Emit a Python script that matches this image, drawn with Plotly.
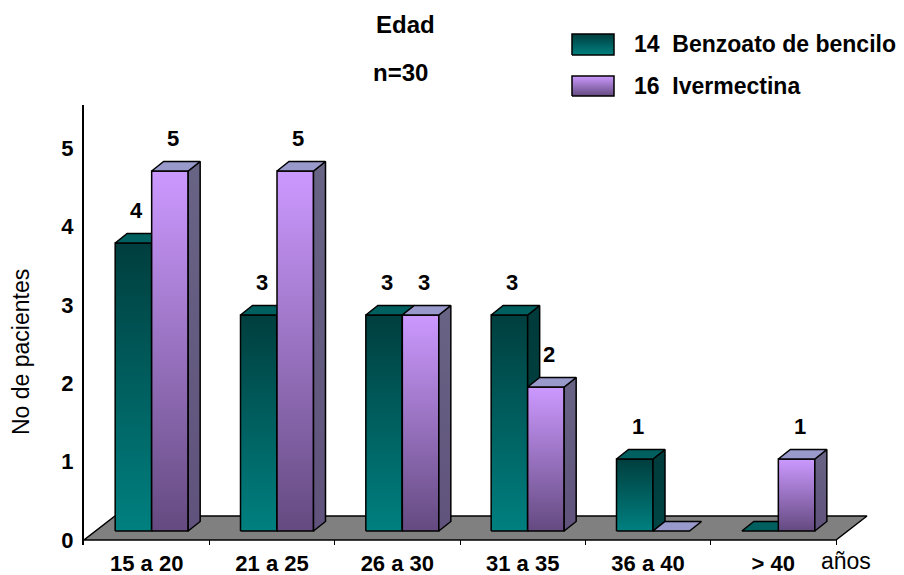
import plotly.graph_objects as go

# ---- data -----------------------------------------------------------------
categories = ["15 a 20", "21 a 25", "26 a 30", "31 a 35", "36 a 40", "> 40"]
benzoato = [4, 3, 3, 3, 1, 0]
ivermectina = [5, 5, 3, 2, 0, 1]
y_ticks = [0, 1, 2, 3, 4, 5]
series_names = ["14\u00a0\u00a0Benzoato de bencilo", "16\u00a0\u00a0Ivermectina"]

# ---- page / projection geometry (pixels) -------------------------------------
W, H = 904, 575
PX_LEFT, PX_RIGHT = 84, 880        # plot area, left/right
PX_TOP, PX_BOTTOM = 105, 545       # plot area, top/bottom
FRONT_PX = 540                     # front edge of the floor (value 0, front plane)
PX_CAT = 752 / 6                   # width of one age group
PX_UNIT = 78.4                     # one patient on the front plane
PX_UNIT_BAR = 72.0                 # one patient at the depth of the columns
BAR_LIFT = 9                       # columns stand this far behind the floor edge

FLOOR_DX, FLOOR_DY = 31 / PX_CAT, 24 / PX_UNIT
BAR_DX, BAR_DY = 12 / PX_CAT, 9.5 / PX_UNIT_BAR
BAR_W = 36.5 / PX_CAT
PAIR_SHIFT = 5 / PX_CAT

FONT = "Arial, 'Liberation Sans', sans-serif"

x_range = [-0.5, -0.5 + (PX_RIGHT - PX_LEFT) / PX_CAT]
y_range = [(FRONT_PX - PX_BOTTOM) / PX_UNIT, (FRONT_PX - PX_TOP) / PX_UNIT]
y2_range = [(FRONT_PX - BAR_LIFT - PX_BOTTOM) / PX_UNIT_BAR,
            (FRONT_PX - BAR_LIFT - PX_TOP) / PX_UNIT_BAR]

styles = [
    dict(front=["rgb(0,128,128)", "rgb(0,62,62)"],
         top="rgb(0,96,96)",
         side=["rgb(0,70,70)", "rgb(0,58,58)"]),
    dict(front=["rgb(100,74,128)", "rgb(204,153,255)"],
         top="rgb(153,153,204)",
         side=["rgb(96,82,124)", "rgb(104,100,132)"]),
]

fig = go.Figure()


def face(xs, ys, yaxis, fill, xaxis="x"):
    """Closed polygon with black outline; fill is a colour or a [bottom, top] gradient."""
    kw = dict(
        x=list(xs) + [xs[0]], y=list(ys) + [ys[0]],
        mode="lines", fill="toself",
        line=dict(color="black", width=1.5),
        xaxis=xaxis, yaxis=yaxis, hoverinfo="skip", showlegend=False,
    )
    if isinstance(fill, list):
        kw["fillgradient"] = dict(type="vertical",
                                  colorscale=[[0, fill[0]], [1, fill[1]]])
    else:
        kw["fillcolor"] = fill
    fig.add_trace(go.Scatter(**kw))


# floor
n = len(categories)
fx0, fx1 = -0.5, n - 0.5
face([fx0, fx1, fx1 + FLOOR_DX, fx0 + FLOOR_DX],
     [0, 0, FLOOR_DY, FLOOR_DY], "y", "rgb(128,128,128)")

# columns
annotations = []
for i in range(n):
    center = i + PAIR_SHIFT
    for s, values in enumerate([benzoato, ivermectina]):
        v = values[i]
        st = styles[s]
        x0 = center - BAR_W if s == 0 else center
        x1 = x0 + BAR_W
        if v > 0:
            face([x0, x1, x1, x0], [0, 0, v, v], "y2", st["front"])
            face([x1, x1 + BAR_DX, x1 + BAR_DX, x1], [0, BAR_DY, v + BAR_DY, v],
                 "y2", st["side"])
        face([x0, x1, x1 + BAR_DX, x0 + BAR_DX], [v, v, v + BAR_DY, v + BAR_DY],
             "y2", st["top"])
        if v > 0:
            annotations.append(dict(
                x=(x0 + x1) / 2 + 3 / PX_CAT, y=v, xref="x", yref="y2",
                text=str(v), showarrow=False, yshift=33,
                xanchor="center", yanchor="middle",
                font=dict(family=FONT, size=22, color="black", weight="bold")))

# legend swatches (own hidden axes in page pixels, y measured upward)
swatches = [(572, 34, 614, 55), (572, 76, 614, 96)]
for s, (l, t, r, b) in enumerate(swatches):
    face([l, r, r, l], [H - b, H - b, H - t, H - t], "y3", styles[s]["front"],
         xaxis="x2")
    annotations.append(dict(
        x=632 / W, y=1 - ((t + b) / 2) / H, xref="paper", yref="paper",
        xanchor="left", yanchor="middle", text=series_names[s], showarrow=False,
        font=dict(family=FONT, size=23, color="black", weight="bold")))

# titles and axis captions
annotations += [
    dict(x=405 / W, y=1 - 24 / H, xref="paper", yref="paper", text="Edad",
         xanchor="center", yanchor="middle", showarrow=False,
         font=dict(family=FONT, size=24, color="black", weight="bold")),
    dict(x=400 / W, y=1 - 73 / H, xref="paper", yref="paper", text="n=30",
         xanchor="center", yanchor="middle", showarrow=False,
         font=dict(family=FONT, size=24, color="black", weight="bold")),
    dict(x=21 / W, y=1 - 352 / H, xref="paper", yref="paper", text="No de pacientes",
         xanchor="center", yanchor="middle", textangle=-90, showarrow=False,
         font=dict(family=FONT, size=23, color="black")),
    dict(x=819 / W, y=1 - 561 / H, xref="paper", yref="paper", text="años",
         xanchor="left", yanchor="middle", showarrow=False,
         font=dict(family=FONT, size=23, color="black")),
    # arrow head on the value axis
    dict(x=-0.5, y=(FRONT_PX - 100) / PX_UNIT, xref="x", yref="y", text="",
         showarrow=True, ax=0, ay=22, arrowhead=2, arrowsize=1.3,
         arrowwidth=2, arrowcolor="black"),
]

fig.update_layout(
    width=W, height=H,
    margin=dict(l=0, r=0, t=0, b=0, autoexpand=False),
    paper_bgcolor="white", plot_bgcolor="rgba(0,0,0,0)",
    showlegend=False,
    annotations=annotations,
    xaxis=dict(
        domain=[PX_LEFT / W, PX_RIGHT / W], range=x_range, automargin=False,
        tickmode="array", tickvals=list(range(n)), ticktext=categories,
        tickfont=dict(family=FONT, size=22, color="black", weight="bold"),
        ticks="", showline=False, showgrid=False, zeroline=False,
        ticklabelstandoff=3,
        minor=dict(tickmode="array", tickvals=[i + 0.5 for i in range(n)],
                   ticks="inside", ticklen=5, tickwidth=1, tickcolor="black",
                   showgrid=False),
    ),
    yaxis=dict(
        domain=[1 - PX_BOTTOM / H, 1 - PX_TOP / H], range=y_range, automargin=False,
        tickmode="array", tickvals=y_ticks,
        tickfont=dict(family=FONT, size=22, color="black", weight="bold"),
        ticks="", showline=True, linewidth=2, linecolor="black",
        showgrid=False, zeroline=False, ticklabelstandoff=4,
    ),
    yaxis2=dict(overlaying="y", anchor="x", range=y2_range, visible=False,
                automargin=False),
    xaxis2=dict(domain=[0, 1], range=[0, W], anchor="y3", visible=False,
                automargin=False),
    yaxis3=dict(domain=[0, 1], range=[0, H], anchor="x2", visible=False,
                automargin=False),
)

fig.write_html("out.html")
